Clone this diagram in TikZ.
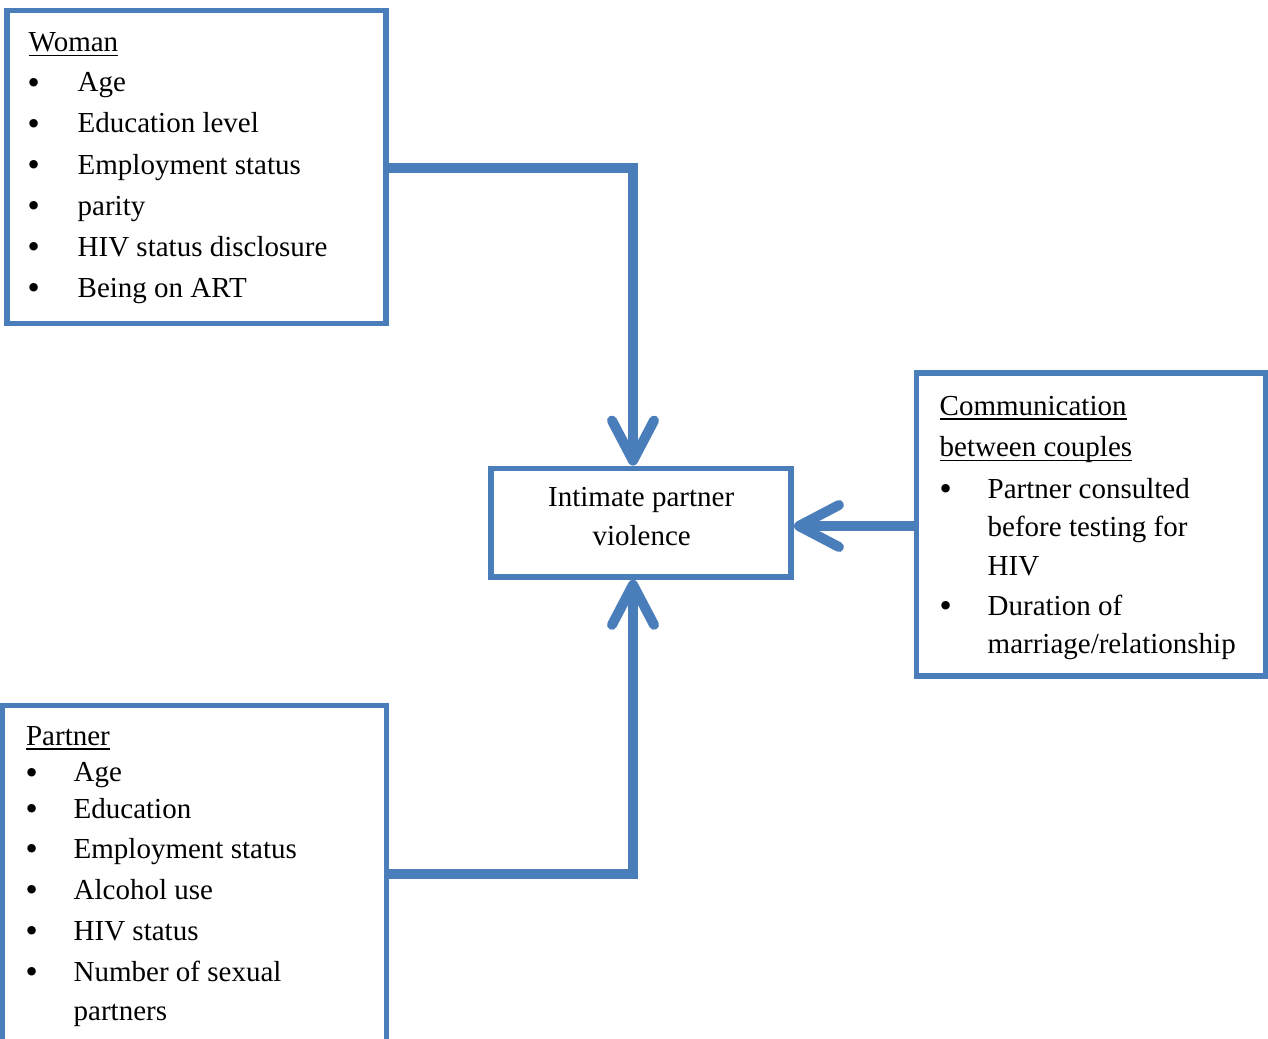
\documentclass[tikz,border=0pt]{standalone}
\usepackage{fontspec}
\setmainfont{Liberation Serif}
\newfontfamily\dotfont{DejaVu Sans}
\usetikzlibrary{arrows.meta}
\definecolor{frameblue}{HTML}{4A7EBB}
\newcommand{\wordul}[1]{\setbox0\hbox{#1}\rlap{\rule[-2.3pt]{\wd0}{0.65pt}}\box0}
\newcommand{\bigdot}{\raisebox{-0.8pt}{\dotfont •}}
\newcommand{\panel}[5]{\node[draw=frameblue,line width=2.75pt,inner sep=0pt,minimum width=#4*0.5pt,minimum height=#5*0.5pt] (#1) at (#2,#3) {};}
\newcommand{\panelhead}[4]{\node[anchor=base west,inner sep=0pt] (#1) at (#2,#3) {\wordul{#4}};}
\newcommand{\panelline}[4]{\node[anchor=base west,inner sep=0pt] (#1) at (#2,#3) {#4};}
\newcommand{\factor}[5]{\node[anchor=base,inner sep=0pt] (#1dot) at (#2,#4) {\bigdot}; \node[anchor=base west,inner sep=0pt] (#1) at (#3,#4) {#5};}
\newcommand{\feed}[3]{\draw[frameblue,line width=5pt,-{Straight Barb[length=20pt,width=21pt,round]}] (#1) #3 (#2);}

\begin{document}
\begin{tikzpicture}[x=0.5pt,y=-0.5pt,font=\fontsize{14.5}{20}\selectfont]
    \clip (0,0) rectangle (1268,1038);
    \panel{Woman}{196.5}{167}{379}{313}
    \panelhead{W0}{28.3}{51.5}{Woman}
    \factor{W1}{34.5}{77.3}{92}{Age}    \factor{W2}{34.5}{77.3}{133}{Education level}
    \factor{W3}{34.5}{77.3}{174}{Employment status}    \factor{W4}{34.5}{77.3}{215}{parity}
    \factor{W5}{34.5}{77.3}{256}{HIV status disclosure}    \factor{W6}{34.5}{77.3}{297}{Being on ART}

    \panel{IPV}{641.2}{522.7}{300}{108.7}
    \node[anchor=base,inner sep=0pt] (IPV1) at (641.2,506.7) {Intimate partner};
    \node[anchor=base,inner sep=0pt] (IPV2) at (641.7,545) {violence};

    \panel{Comm}{1091.2}{524.5}{349}{303}
    \panelhead{C0}{939.3}{415}{Communication} \panelhead{C00}{939.3}{456.7}{between couples}
    \factor{C1}{945.7}{987.3}{498.3}{Partner consulted}
    \panelline{C1a}{987.3}{536.7}{before testing for} \panelline{C1b}{987.3}{575}{HIV}
    \factor{C2}{945.7}{987.3}{615}{Duration of} \panelline{C2a}{987.3}{653.3}{marriage/relationship}

    \panel{Partner}{194.4}{887.8}{383.8}{364.5}
    \panelhead{P0}{25.7}{745}{Partner}
    \factor{P1}{31.7}{73.3}{781.7}{Age}    \factor{P2}{31.7}{73.3}{818.3}{Education}
    \factor{P3}{31.7}{73.3}{858.3}{Employment status}    \factor{P4}{31.7}{73.3}{899.3}{Alcohol use}
    \factor{P5}{31.7}{73.3}{940}{HIV status}    \factor{P6}{31.7}{73.3}{981}{Number of sexual}
    \panelline{P6a}{73.3}{1020}{partners}

    \feed{Woman.east |- 0,168}{633,0 |- IPV.north}{-|}
    \feed{Partner.east |- 0,874}{633,0 |- IPV.south}{-|}
    \feed{Comm.west |- 0,526}{IPV.east |- 0,526}{--}
\end{tikzpicture}
\end{document}
